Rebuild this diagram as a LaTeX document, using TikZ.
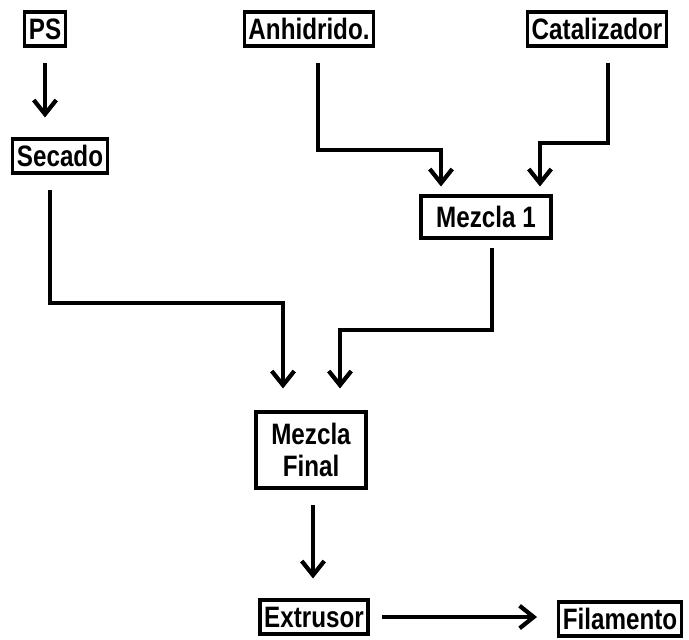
\documentclass[tikz,border=0pt]{standalone}
\usepackage{fontspec}
\setmainfont{Liberation Sans}[FakeStretch=0.82]
\usetikzlibrary{arrows.meta}

\tikzset{
  caja/.style={draw, line width=2.2pt, inner xsep=3pt, inner ysep=1pt,
    minimum height=0.85cm, font=\fontsize{21}{23}\selectfont\bfseries},
  flecha/.style={line width=2.2pt,
    -{Straight Barb[length=10pt, width=16pt, line width=3pt]},
    shorten <=0.38cm, shorten >=0.5cm}
}

\begin{document}
\begin{tikzpicture}[x=0.025cm, y=-0.025cm]
  %%%%% START %%%%%
  \useasboundingbox (0,0) rectangle (689,639);

  \node[caja] (ps) at (45,29) {PS};
  \node[caja] (anh) at (309,29) {Anhidrido.};
  \node[caja] (cat) at (597,29) {Catalizador};
  \node[caja] (sec) at (60,156) {Secado};
  \node[caja, minimum height=1.05cm, minimum width=3.25cm] (mez1) at (486,217) {Mezcla 1};
  \node[caja, align=center, minimum height=1.9cm, minimum width=2.75cm] (fin) at (311,450) {Mezcla\\Final};
  \node[caja] (ext) at (314,617) {Extrusor};
  \node[caja] (fil) at (620,619) {Filamento};

  \coordinate (c1) at (283,303);
  \coordinate (c2) at (340,330);
  \coordinate (c3) at (441,150);
  \coordinate (c4) at (540,143);

  \draw[flecha] (ps.south) -- (ps.south |- sec.north);
  \draw[flecha, shorten >=0.2cm] (anh.south -| 318,0) |- (c3) -- (c3 |- mez1.north);
  \draw[flecha, shorten >=0.2cm] (cat.south -| 608,0) |- (c4) -- (c4 |- mez1.north);
  \draw[flecha, shorten >=0.55cm] (sec.south -| 50,0) |- (c1) -- (c1 |- fin.north);
  \draw[flecha, shorten >=0.55cm, shorten <=0.2cm] (mez1.south -| 492,0) |- (c2) -- (c2 |- fin.north);
  \draw[flecha] (fin.south -| 313,0) -- (ext.north -| 313,0);
  \draw[flecha, shorten <=0.32cm] (ext.east) -- (ext.east -| fil.west);
  %%%%% END %%%%%
\end{tikzpicture}
\end{document}
